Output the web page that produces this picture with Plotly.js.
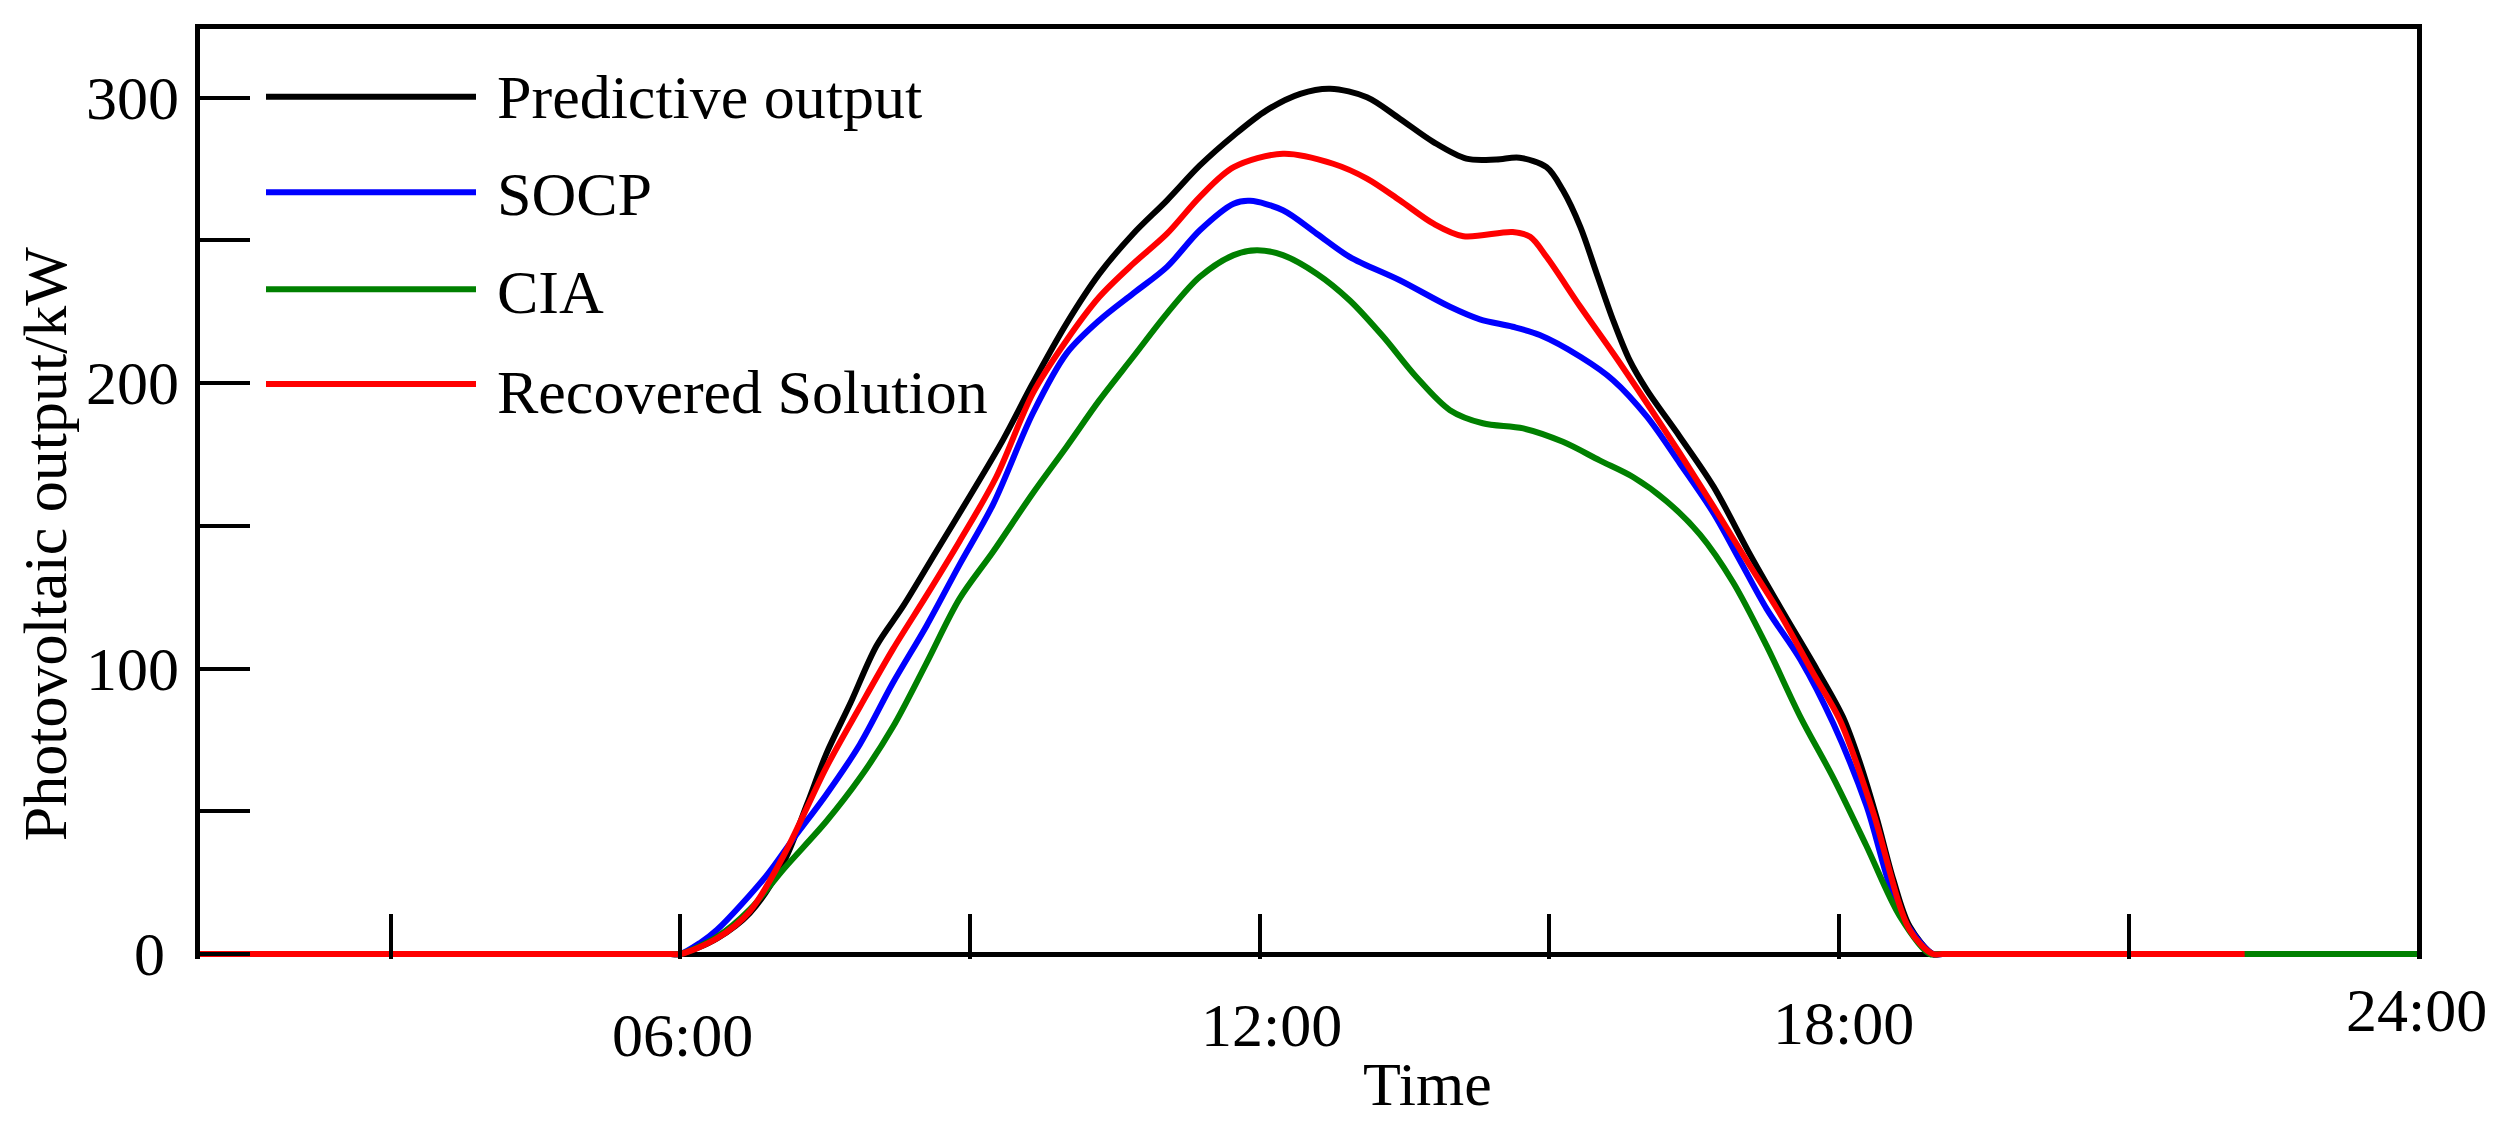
<!DOCTYPE html>
<html>
<head>
<meta charset="utf-8">
<script src="https://cdn.plot.ly/plotly-3.0.1.min.js"></script>
<style>
  html, body { margin: 0; padding: 0; background: #ffffff; }
  #chart { width: 2501px; height: 1124px; }
</style>
</head>
<body>
<div id="chart"></div>
<script>
// ---------------- data (time in hours, output in kW) ----------------
const seriesNames = ["Predictive output", "SOCP", "CIA", "Recovered Solution"];
const seriesColors = ["#000000", "#0000ff", "#008000", "#ff0000"];

const timePredictive = [1, 5.9, 6.0, 6.38, 6.72, 7.07, 7.31, 7.51, 7.76, 8.03, 8.31, 8.65, 9.00, 9.34, 9.65, 10.00, 10.34, 10.69, 11.04, 11.38, 11.73, 12.07, 12.42, 12.73, 13.11, 13.45, 13.80, 14.14, 14.45, 14.69, 14.97, 15.14, 15.32, 15.49, 15.66, 15.83, 16.01, 16.35, 16.70, 17.08, 17.42, 17.77, 18.04, 18.21, 18.39, 18.56, 18.73, 18.97, 19.07, 24];
const valuePredictive = [0, 0, 0, 5.5, 14.4, 32.2, 52.3, 70.0, 87.8, 107.9, 122.0, 141.0, 160.5, 180.0, 199.9, 220.9, 238.3, 252.3, 264.0, 276.2, 286.7, 295.5, 301.3, 303.1, 300.1, 292.6, 284.4, 278.6, 278.3, 278.9, 275.6, 267.5, 254.7, 238.3, 222.0, 208.0, 197.5, 181.2, 163.7, 139.8, 119.7, 99.6, 83.0, 67.6, 47.6, 26.2, 9.7, 0, 0, 0];

const timeSOCP = [1, 5.9, 6.0, 6.2, 6.38, 6.89, 7.17, 7.51, 7.86, 8.20, 8.55, 8.89, 9.24, 9.65, 10.00, 10.34, 10.69, 11.04, 11.38, 11.73, 11.90, 12.24, 12.59, 12.93, 13.45, 13.97, 14.28, 14.62, 14.90, 15.32, 15.66, 16.01, 16.35, 16.70, 16.97, 17.25, 17.60, 17.94, 18.28, 18.63, 18.97, 19.07, 24];
const valueSOCP = [0, 0, 0, 3.8, 8.5, 27.4, 40.4, 55.8, 73.5, 94.9, 115.0, 136.3, 157.6, 189.4, 210.4, 222.0, 231.4, 240.7, 253.5, 262.8, 263.8, 260.5, 252.3, 244.2, 236.0, 226.7, 222.3, 219.7, 216.8, 209.2, 201.0, 188.2, 171.9, 154.4, 138.0, 120.9, 103.1, 80.7, 52.3, 14.4, 0, 0, 0];

const timeCIA = [1, 5.9, 6.0, 6.38, 6.72, 7.07, 7.51, 7.86, 8.20, 8.55, 8.89, 9.24, 9.65, 10.00, 10.34, 10.69, 11.04, 11.38, 11.73, 11.97, 12.24, 12.59, 12.93, 13.28, 13.62, 13.97, 14.31, 14.73, 15.14, 15.52, 15.87, 16.21, 16.56, 16.90, 17.25, 17.60, 17.94, 18.28, 18.63, 18.94, 19.04, 24];
const valueCIA = [0, 0, 0, 6.0, 15.6, 29.8, 46.4, 61.7, 79.5, 102.0, 124.4, 141.0, 161.4, 177.7, 194.0, 209.2, 224.4, 237.2, 244.8, 246.5, 244.8, 238.3, 229.0, 216.2, 202.2, 190.5, 185.9, 184.1, 179.4, 172.9, 167.0, 158.7, 146.9, 130.3, 107.9, 83.0, 61.7, 38.1, 13.2, 0, 0, 0];

const timeRecovered = [1, 5.9, 6.0, 6.38, 6.72, 7.07, 7.51, 7.86, 8.20, 8.55, 8.89, 9.27, 9.65, 10.00, 10.34, 10.69, 11.04, 11.38, 11.73, 12.24, 12.76, 13.11, 13.45, 13.80, 14.11, 14.62, 14.80, 14.97, 15.32, 15.66, 16.01, 16.35, 16.70, 17.04, 17.40, 17.73, 18.01, 18.35, 18.73, 18.97, 19.07, 22.2];
const valueRecovered = [0, 0, 0, 5.5, 15.0, 34.5, 65.3, 86.6, 106.7, 125.6, 144.5, 167.0, 196.4, 215.0, 230.2, 241.8, 252.3, 265.2, 275.6, 280.3, 276.8, 271.6, 264.0, 255.8, 251.4, 252.9, 251.2, 244.2, 226.7, 210.4, 192.9, 175.4, 156.7, 138.0, 118.5, 98.4, 81.8, 49.9, 8.5, 0, 0, 0];

// axis ticks and labels
const xTickVals = [3, 6, 9, 12, 15, 18, 21];
const xTickLabels = ["06:00", "12:00", "18:00", "24:00"];
const yTickVals = [0, 50, 100, 150, 200, 250, 300];
const yLabelVals = [0, 100, 200, 300];
const yLabelText = ["0", "100", "200", "300"];
const xTitle = "Time";
const yTitle = "Photovoltaic output/kW";

// ---------------- layout geometry (pixels) ----------------
const W = 2501, H = 1124;
const plotL = 200, plotR = 2417, plotT = 29, plotB = 959.5;
const xRange = [1.025, 23.985];
const yRange = [-1.75, 324];
const FONT = "Liberation Serif, Times New Roman, Times, serif";
const FS = 62;

function paperX(p) { return (p - plotL) / (plotR - plotL); }
function paperY(p) { return (plotB - p) / (plotB - plotT); }

const times = [timePredictive, timeSOCP, timeCIA, timeRecovered];
const values = [valuePredictive, valueSOCP, valueCIA, valueRecovered];

const traces = times.map((t, i) => ({
  type: "scatter",
  mode: "lines",
  x: t,
  y: values[i],
  name: seriesNames[i],
  line: { color: seriesColors[i], width: 6, shape: "spline", smoothing: 0.9 },
  showlegend: false,
  hoverinfo: "skip"
}));

// top frame line (axis box)
const shapes = [{
  type: "line", xref: "paper", yref: "paper",
  x0: paperX(195), x1: paperX(2422), y0: paperY(26.5), y1: paperY(26.5),
  line: { color: "#000", width: 5 }
}];

// manual legend (sample lines + names)
const legendLineY = [96.7, 192.3, 289.3, 384.3];
const legendTextY = [97, 194, 292, 392];
seriesNames.forEach((n, i) => {
  shapes.push({
    type: "line", xref: "paper", yref: "paper",
    x0: paperX(266), x1: paperX(476),
    y0: paperY(legendLineY[i]), y1: paperY(legendLineY[i]),
    line: { color: seriesColors[i], width: 6 }
  });
});

const annotations = [];
seriesNames.forEach((n, i) => {
  annotations.push({
    xref: "paper", yref: "paper", x: paperX(496), y: paperY(legendTextY[i]),
    xanchor: "left", yanchor: "middle", text: n, showarrow: false, borderpad: 0,
    font: { family: FONT, size: FS, color: "#000" }
  });
});

// y tick labels
const yLabelShift = [-34, -20, -20, -20];
yLabelVals.forEach((v, i) => {
  annotations.push({
    xref: "paper", yref: "y", x: 0, y: v, xshift: yLabelShift[i],
    xanchor: "right", yanchor: "middle", text: yLabelText[i], showarrow: false, borderpad: 0,
    font: { family: FONT, size: FS, color: "#000" }
  });
});

// x tick labels (staggered as in the original)
const xLabelPx = [682.5, 1271.7, 1843.3, 2416.7];
const xLabelPy = [1035.1, 1025.1, 1023.1, 1010.8];
xTickLabels.forEach((s, i) => {
  annotations.push({
    xref: "paper", yref: "paper", x: paperX(xLabelPx[i]), y: paperY(xLabelPy[i]),
    xanchor: "center", yanchor: "middle", text: s, showarrow: false, borderpad: 0,
    font: { family: FONT, size: FS, color: "#000" }
  });
});

// axis titles
annotations.push({
  xref: "paper", yref: "paper", x: paperX(1427.5), y: paperY(1084.1),
  xanchor: "center", yanchor: "middle", text: xTitle, showarrow: false, borderpad: 0,
  font: { family: FONT, size: FS, color: "#000" }
});
annotations.push({
  xref: "paper", yref: "paper", x: paperX(44.5), y: paperY(544),
  xanchor: "center", yanchor: "middle", text: yTitle, textangle: -90, showarrow: false, borderpad: 0,
  font: { family: FONT, size: FS, color: "#000" }
});

const layout = {
  width: W, height: H, autosize: false,
  margin: { l: plotL, r: W - plotR, t: plotT, b: H - plotB, pad: 0 },
  paper_bgcolor: "#ffffff", plot_bgcolor: "#ffffff",
  showlegend: false,
  font: { family: FONT, size: FS, color: "#000" },
  xaxis: {
    range: xRange, showline: false, showgrid: false, zeroline: false,
    tickmode: "array", tickvals: xTickVals, showticklabels: false,
    ticks: "inside", ticklen: 45, tickwidth: 4, tickcolor: "#000",
    fixedrange: true
  },
  yaxis: {
    range: yRange, showline: true, mirror: true, linewidth: 5, linecolor: "#000",
    showgrid: false, zeroline: true, zerolinecolor: "#000", zerolinewidth: 5,
    tickmode: "array", tickvals: yTickVals, showticklabels: false,
    ticks: "inside", ticklen: 50, tickwidth: 4, tickcolor: "#000",
    fixedrange: true
  },
  shapes: shapes,
  annotations: annotations
};

Plotly.newPlot("chart", traces, layout, { staticPlot: true, displayModeBar: false });
</script>
</body>
</html>
